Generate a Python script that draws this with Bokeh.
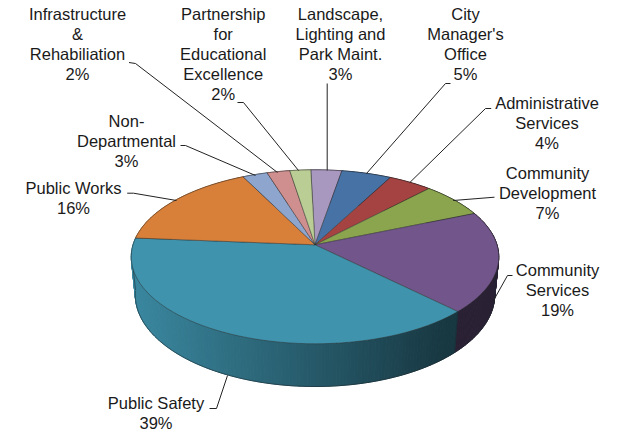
import numpy as np
from bokeh.plotting import figure
from bokeh.models import Range1d
from bokeh.core.properties import value
from bokeh.embed import file_html
from bokeh.resources import INLINE

# ---- data (clockwise from the first slice) ----
categories = ["Landscape,\nLighting and\nPark Maint.", "City\nManager's\nOffice",
              "Administrative\nServices", "Community\nDevelopment", "Community\nServices",
              "Public Safety", "Public Works", "Non-\nDepartmental",
              "Infrastructure\n&\nRehabiliation", "Partnership\nfor\nEducational\nExcellence"]
shares = [3.1, 5.0, 4.4, 6.6, 18.8, 38.8, 16.4, 2.5, 2.3, 2.1]
percent_labels = ["3%", "5%", "4%", "7%", "19%", "39%", "16%", "3%", "2%", "2%"]
colors = ["#A897BE", "#4672A6", "#A54342", "#8AA54E", "#71558B",
          "#3F93AD", "#D8803A", "#8EA6CE", "#CE8F8E", "#B9CD94"]

# ---- layout, in page pixels ----
start_deg = -1.5
K = 0.138
top_c, top_sx, top_sy = (314.5, 244.3), 182.0, 85.3
bot_c, bot_sx, bot_sy = (314.5, 281.6), 178.0, 90.0
silhouette_deg = [95, 265]
label_x = [340, 465, 546.5, 547, 557, 155.5, 73, 126, 77, 222.7]
label_y = [13.5, 13.5, 102.2, 172, 269.3, 402.3, 187.3, 120, 13.5, 13.5]
leaders = [
    ([326.7, 326.7], [83, 170]),
    ([450, 445, 366], [83, 83, 173]),
    ([490.7, 485, 409.3], [108, 108, 182]),
    ([494, 452.7], [196.7, 200]),
    ([512, 507, 493], [275, 275, 300]),
    ([209, 216, 227], [408, 408, 375]),
    ([126.7, 133, 176], [192.7, 192.7, 200]),
    ([180, 185, 255], [145, 145, 175]),
    ([128.5, 135, 277], [62, 63, 172]),
    ([237, 243, 298], [102, 102, 170]),
]
LINE_GAP = 20
FONT = value("Liberation Sans")

p = figure(width=617, height=433, output_backend="svg", toolbar_location=None,
           x_range=Range1d(0, 617), y_range=Range1d(433, 0),
           min_border=0, outline_line_color=None, margin=(0, 0, 0, 0))
p.axis.visible = False
p.grid.visible = False


def project(theta_deg, c, sx, sy):
    t = np.radians(theta_deg)
    u, v = np.sin(t), np.cos(t)
    w = 1 + K * v
    return c[0] + sx * u / w, c[1] - sy * v / w


def shade(hexcol, f):
    r, g, b = (int(hexcol[i:i + 2], 16) for i in (1, 3, 5))
    return "#%02x%02x%02x" % (int(r * f), int(g * f), int(b * f))


edges = start_deg + np.concatenate([[0], np.cumsum(shares)]) * 3.6

# sides: thin shaded strips, lighter to the left; front-most slice drawn last
xs, ys, cs = [], [], []
outline_x, outline_y = [], []
for i in sorted(range(len(shares)),
                key=lambda i: np.cos(np.radians(0.5 * (edges[i] + edges[i + 1]))), reverse=True):
    a0, a1 = edges[i], edges[i + 1]
    n = max(2, int((a1 - a0) / 1.0))
    th = np.linspace(a0, a1, n + 1)
    tx, ty = project(th, top_c, top_sx, top_sy)
    bx, by = project(th, bot_c, bot_sx, bot_sy)
    for j in range(n):
        xs.append([tx[j], tx[j + 1], bx[j + 1], bx[j]])
        ys.append([ty[j], ty[j + 1], by[j + 1], by[j]])
        nx = (0.5 * (tx[j] + tx[j + 1]) - top_c[0]) / top_sx
        f = float(np.interp(nx, [-1.0, 0.72, 1.0], [0.92, 0.38, 0.38]))
        cs.append(shade(colors[i], f))
    mask = (th % 360 >= silhouette_deg[0]) & (th % 360 <= silhouette_deg[1])
    if mask.sum() > 1:
        outline_x.append(list(bx[mask]))
        outline_y.append(list(by[mask]))
    if 100 < a0 < 200:
        outline_x.append([tx[0], bx[0]])
        outline_y.append([ty[0], by[0]])

for deg in silhouette_deg:
    sx0, sy0 = project(deg, top_c, top_sx, top_sy)
    sx1, sy1 = project(deg, bot_c, bot_sx, bot_sy)
    outline_x.append([sx0, sx1])
    outline_y.append([sy0, sy1])

p.patches(xs, ys, fill_color=cs, line_color=cs, line_width=1)
p.multi_line(outline_x, outline_y, line_color="#1c2a30", line_width=0.8, line_alpha=0.7)

# top surface
tops_x, tops_y = [], []
for i in range(len(shares)):
    th = np.linspace(edges[i], edges[i + 1], 60)
    tx, ty = project(th, top_c, top_sx, top_sy)
    tops_x.append([top_c[0]] + list(tx))
    tops_y.append([top_c[1]] + list(ty))
p.patches(tops_x, tops_y, fill_color=colors, line_color="#2a2a2a", line_width=0.7, line_alpha=0.65)

# leaders
p.multi_line([l[0] for l in leaders], [l[1] for l in leaders], line_color="#222222", line_width=1)

# labels
tx_, ty_, txt = [], [], []
for name, pct, x, y in zip(categories, percent_labels, label_x, label_y):
    for k, line in enumerate(name.split("\n") + [pct]):
        tx_.append(x)
        ty_.append(y + k * LINE_GAP)
        txt.append(line)
p.text(tx_, ty_, text=txt, text_align="center", text_baseline="middle",
       text_font=FONT, text_font_size="16.5px", text_color="#1a1a1a")

open("out.html", "w").write(file_html(p, INLINE))
